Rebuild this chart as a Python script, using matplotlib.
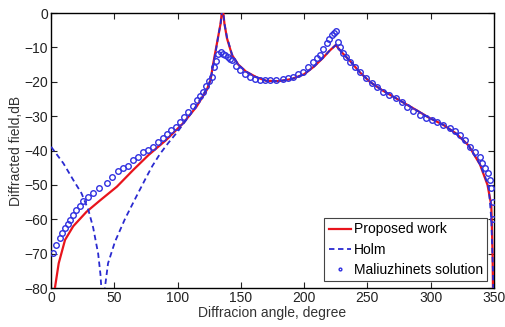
import matplotlib
matplotlib.use("Agg")
import matplotlib.pyplot as plt

# Proposed work (red solid)
prop_x = [3, 6, 11, 17.5, 28, 39, 52, 65, 77, 91, 104.5, 115, 123, 126, 128, 130,
          132, 134, 135.5, 137, 139, 143, 148, 154, 162, 170, 180, 190, 200, 208,
          215, 220, 225, 230, 236, 244, 252, 262, 276, 290, 299, 310, 320, 330,
          339, 345, 348, 349, 349.3]
prop_y = [-80, -72.8, -66, -62, -57.8, -54.4, -50.5, -45.6, -41.3, -36.9, -32, -27.2,
          -22.4, -19.5, -15, -11, -7, -3, 2, -3, -7.3, -12.2, -15, -17, -18.6, -19.7,
          -19.8, -19.2, -17.8, -15.5, -13, -11, -9.3, -11.5, -13.8, -17.2, -20,
          -22.5, -25.5, -28.5, -30.5, -32.5, -35, -38.5, -44, -50, -56, -70, -80]

# Holm (blue dashed)
holm_x = [0, 9.7, 17.6, 24, 29.5, 33.3, 37.2, 39, 40.8, 42.6, 45, 50.5, 58.5, 67.6,
          75.6, 80, 86, 92.6, 100, 106, 112, 118, 123, 126, 128, 130, 132, 134,
          135.5, 137, 139, 143, 148, 154, 162, 170, 180, 190, 200, 208, 215, 220,
          225, 230, 236, 244, 252, 262, 276, 290, 299, 310, 320, 330, 339, 343,
          346, 348, 349.3, 349.5]
holm_y = [-38.9, -43.7, -48.6, -52.4, -57.3, -62.5, -70, -76, -86, -79.7, -72.8,
          -66.5, -59.8, -53.2, -47.5, -44.5, -41, -37.8, -34.5, -31.5, -28.5, -25,
          -22, -19.5, -15.5, -11.5, -7, -3, 2, -3, -7, -12, -15, -17, -18.6, -19.7,
          -19.8, -19.2, -17.8, -15.5, -13, -11, -9.3, -11.5, -13.8, -17.2, -20,
          -22.5, -25.5, -28.5, -30.5, -32.5, -35, -38.5, -44, -47.5, -51, -60, -75,
          -80]

# Maliuzhinets solution (open circles)
mal_x = [1.7, 4, 7, 9, 11, 13, 15, 17.5, 20, 22.5, 25.4, 29, 33.4, 38, 44, 48, 53,
         57, 61, 65, 68.7, 72.8, 76.5, 80.8, 84.5, 88.7, 92, 95, 98.5, 102, 105,
         108.5, 112, 115, 117.5, 120, 122.5, 125, 127, 128.5, 130, 132, 134, 136,
         137.5, 139.5, 141.5, 143, 146, 149, 153, 157, 161, 165, 169, 173, 178,
         183, 187, 191, 195, 199, 203, 207, 210, 212.6, 215, 218, 220, 222, 223.5,
         225, 226.7, 228.5, 230.7, 233, 236, 240, 244, 249, 254, 258, 262, 267,
         273, 277, 281, 286, 291.5, 296, 301, 305, 310, 315, 319, 323, 327, 331,
         335, 339, 341, 343, 345, 347, 348, 349, 349.5]
mal_y = [-69.8, -67.5, -65.4, -64, -62.5, -61.3, -60.2, -58.7, -57.3, -56, -54.8,
         -53.5, -52.4, -51, -49.5, -47.8, -46, -45.2, -44.5, -42.7, -41.8, -40.3,
         -39.8, -38.9, -37.5, -36.4, -35.2, -34, -33, -31.6, -30.2, -28.7, -27,
         -25.3, -24, -22.9, -21.2, -19.7, -18.5, -15.7, -14, -11.8, -11.2, -12,
         -12.2, -12.8, -13.3, -13.7, -15.5, -16.6, -17.8, -18.6, -19.2, -19.5,
         -19.6, -19.5, -19.4, -19.2, -19, -18.6, -17.8, -17, -15.8, -14.2, -13.2,
         -12.2, -10.5, -8.8, -7.6, -6.4, -5.8, -5.2, -8.4, -10, -11.7, -12.8,
         -14.2, -15.6, -17, -18.8, -20.4, -21.6, -22.9, -23.8, -24.8, -26, -27.2,
         -28.4, -29.6, -30.5, -31, -31.6, -32.5, -33.4, -34.4, -35.5, -37, -38.9,
         -40.5, -41.8, -43.5, -45, -46.5, -48.5, -51, -55, -60]

x_ticks = [0, 50, 100, 150, 200, 250, 300, 350]
y_ticks = [0, -10, -20, -30, -40, -50, -60, -70, -80]

plt.rcParams["font.family"] = ["Liberation Sans", "DejaVu Sans"]

fig = plt.figure(figsize=(5.06, 3.27), dpi=100)
ax = fig.add_axes([0.101, 0.119, 0.875, 0.841])

ax.plot(prop_x, prop_y, color="#e8141c", lw=1.6, label="Proposed work", zorder=3)
ax.plot(holm_x, holm_y, color="#2a2ad0", lw=1.3, ls=(0, (3, 2)), label="Holm", zorder=4)
ax.plot(mal_x, mal_y, ls="none", marker="o", ms=4, mfc="none", mec="#3030e0",
        mew=1.0, label="Maliuzhinets solution", zorder=5)

ax.set_xlim(0, 350)
ax.set_ylim(-80, 0)
ax.set_xticks(x_ticks)
ax.set_yticks(y_ticks)
ax.tick_params(direction="in", top=True, right=True, length=4, labelsize=10,
               colors="#222222", pad=2)
for s in ax.spines.values():
    s.set_linewidth(1.0)

ax.set_xlabel("Diffracion angle, degree", fontsize=10, color="#333333", labelpad=1)
ax.set_ylabel("Diffracted field,dB", fontsize=10, color="#333333", labelpad=1)

leg = ax.legend(loc="lower right", fontsize=10, handlelength=1.6, handletextpad=0.2,
                borderpad=0.3, labelspacing=0.45, fancybox=False, framealpha=1,
                edgecolor="#444444", borderaxespad=0.5, markerscale=0.5)
leg.get_frame().set_linewidth(0.8)

fig.savefig("out.png", dpi=100)
